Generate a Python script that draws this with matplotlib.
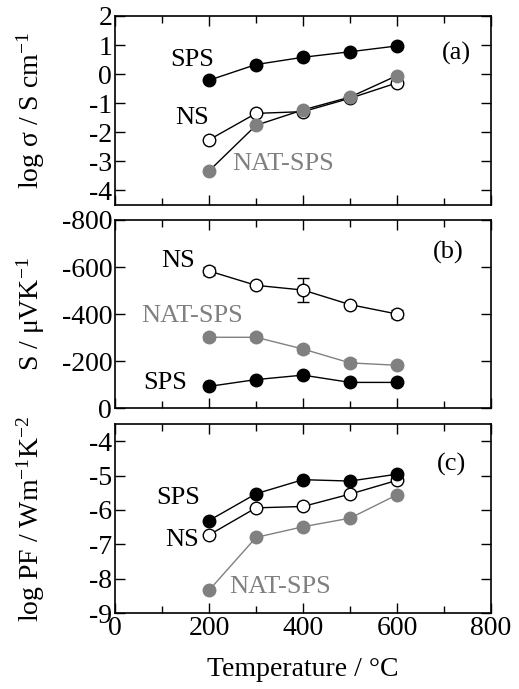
import matplotlib
matplotlib.use('Agg')
from matplotlib import pyplot as plt
from matplotlib.ticker import MultipleLocator

plt.rcParams['font.family'] = ['Liberation Serif', 'DejaVu Serif']
plt.rcParams['mathtext.fontset'] = 'custom'
plt.rcParams['mathtext.rm'] = 'Liberation Serif'
plt.rcParams['mathtext.it'] = 'Liberation Serif:italic'
plt.rcParams['axes.unicode_minus'] = False

temperatura = [200, 300, 400, 500, 600]

# (a) log sigma
sigma_sps = [-0.21, 0.33, 0.58, 0.77, 0.97]
sigma_ns = [-2.26, -1.35, -1.29, -0.83, -0.30]
sigma_nat = [-3.33, -1.76, -1.23, -0.79, -0.05]

# (b) Seebeck
s_sps = [-92, -121, -140, -109, -109]
s_ns = [-583, -522, -502, -440, -400]
s_ns_err = [15, 5, 50, 5, 15]
s_nat = [-301, -301, -251, -192, -182]
s_nat_err = [12, 12, 15, 15, 8]

# (c) log PF
pf_sps = [-6.31, -5.53, -5.12, -5.16, -4.96]
pf_ns = [-6.73, -5.94, -5.90, -5.54, -5.14]
pf_nat = [-8.34, -6.80, -6.49, -6.24, -5.56]

cinza = '#808080'
tam_tick = 20
tam_txt = 19
ms = 9

fig = plt.figure(figsize=(5.19, 6.89), dpi=100)
ax_a = fig.add_axes([0.2216, 0.7025, 0.7245, 0.2743])
ax_b = fig.add_axes([0.2216, 0.4078, 0.7245, 0.2729])
ax_c = fig.add_axes([0.2216, 0.1103, 0.7245, 0.2743])

def estilo(ax, ylim, ymaj):
    ax.set_xlim(0, 800)
    ax.set_ylim(*ylim)
    ax.xaxis.set_major_locator(MultipleLocator(200))
    ax.xaxis.set_minor_locator(MultipleLocator(100))
    ax.yaxis.set_major_locator(MultipleLocator(ymaj))
    ax.tick_params(which='both', direction='in', top=True, right=True, labelsize=tam_tick, pad=2)
    ax.tick_params(which='major', length=7, width=1)
    ax.tick_params(which='minor', length=5, width=1)
    for s in ax.spines.values():
        s.set_linewidth(1.2)
    ax.yaxis.set_label_coords(-0.18, 0.5)

# (a)
ax_a.plot(temperatura, sigma_sps, 'k-o', ms=ms, lw=1, mfc='k', zorder=3)
ax_a.plot(temperatura, sigma_ns, 'k-o', ms=ms, lw=1, mfc='white', zorder=3)
ax_a.plot(temperatura, sigma_nat, '-o', color='k', ms=ms, lw=1, mfc=cinza, mec=cinza, zorder=4)
estilo(ax_a, (-4.5, 2), 1)
ax_a.tick_params(labelbottom=False)
ax_a.set_ylabel('log σ / S cm$^{-1}$', fontsize=tam_tick)
ax_a.text(164, 0.5, 'SPS', fontsize=tam_txt, ha='center', va='center')
ax_a.text(164, -1.5, 'NS', fontsize=tam_txt, ha='center', va='center')
ax_a.text(357, -3.1, 'NAT-SPS', fontsize=tam_txt, ha='center', va='center', color=cinza)
ax_a.text(727, 0.7, '(a)', fontsize=tam_txt, ha='center', va='center')

# (b)
ax_b.errorbar(temperatura, s_ns, yerr=s_ns_err, fmt='-o', color='k', ms=ms, lw=1, mfc='white',
              capsize=4, elinewidth=1, zorder=3)
ax_b.errorbar(temperatura, s_nat, yerr=s_nat_err, fmt='-o', color=cinza, ms=ms, lw=1, mfc=cinza,
              capsize=4, elinewidth=1, zorder=3)
ax_b.plot(temperatura, s_sps, 'k-o', ms=ms, lw=1, mfc='k', zorder=3)
estilo(ax_b, (0, -800), 200)
ax_b.tick_params(labelbottom=False)
ax_b.set_ylabel('S / μVK$^{-1}$', fontsize=tam_tick)
ax_b.text(134, -624, 'NS', fontsize=tam_txt, ha='center', va='center')
ax_b.text(163, -390, 'NAT-SPS', fontsize=tam_txt, ha='center', va='center', color=cinza)
ax_b.text(106, -106, 'SPS', fontsize=tam_txt, ha='center', va='center')
ax_b.text(709, -660, '(b)', fontsize=tam_txt, ha='center', va='center')

# (c)
ax_c.plot(temperatura, pf_nat, '-o', color=cinza, ms=ms, lw=1, mfc=cinza, zorder=3)
ax_c.plot(temperatura, pf_ns, 'k-o', ms=ms, lw=1, mfc='white', zorder=3)
ax_c.plot(temperatura, pf_sps, 'k-o', ms=ms, lw=1, mfc='k', zorder=4)
estilo(ax_c, (-9, -3.5), 1)
ax_c.set_ylabel('log PF / Wm$^{-1}$K$^{-2}$', fontsize=tam_tick)
ax_c.set_xlabel('Temperature / °C', fontsize=tam_tick, labelpad=12)
ax_c.text(134, -5.65, 'SPS', fontsize=tam_txt, ha='center', va='center')
ax_c.text(142, -6.87, 'NS', fontsize=tam_txt, ha='center', va='center')
ax_c.text(351, -8.25, 'NAT-SPS', fontsize=tam_txt, ha='center', va='center', color=cinza)
ax_c.text(716, -4.68, '(c)', fontsize=tam_txt, ha='center', va='center')

plt.savefig('out.png', dpi=100)
